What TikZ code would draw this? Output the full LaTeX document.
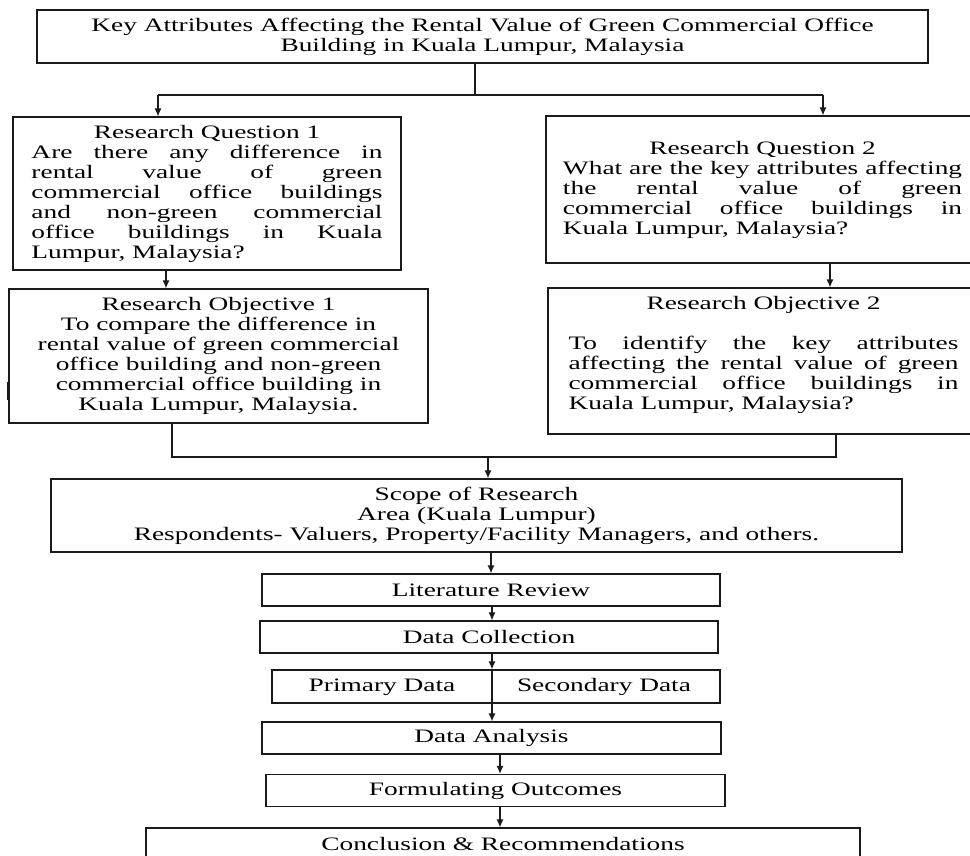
\documentclass[tikz,border=0pt]{standalone}
\usepackage{fontspec}
\setmainfont{Liberation Serif}
\usepackage{graphicx}
\usetikzlibrary{arrows.meta}
\newcommand\sx[1]{\scalebox{1.44}[1]{#1}}
\newcommand\jlin[1]{\hbox to\hsize{#1}}
\newcommand\llin[1]{\hbox to\hsize{#1\hfil}}
\newcommand\clin[1]{\hbox to\hsize{\hfil#1\hfil}}
\newcommand\tblock[2]{\sx{\vbox{\hsize=#1\baselineskip=20pt\relax #2}}}
\definecolor{linec}{HTML}{1A1A1A}
\begin{document}
\begin{tikzpicture}[x=1pt,y=-1pt,
  box/.style={draw=linec, line width=1.2pt, inner sep=0pt, font=\fontsize{19}{20}\selectfont},
  lbl/.style={inner sep=0pt, font=\fontsize{19}{20}\selectfont},
  conn/.style={draw=linec, line width=1.2pt},
  arr/.style={conn, -{Latex[length=8pt,width=7pt]}}]
\useasboundingbox (0,0) rectangle (970,855);
\clip (0,0) rectangle (970,855);
\fill[white] (0,0) rectangle (970,855);

% title
\node[box, minimum width=891pt, minimum height=53pt] (title) at (482.5,36.5)
  {\tblock{610pt}{\clin{Key Attributes Affecting the Rental Value of Green Commercial Office}\clin{Building in Kuala Lumpur, Malaysia}}};

% research questions
\node[box, minimum width=388pt, minimum height=153pt] (rq1) at (207,193.5)
  {\tblock{243.75pt}{\clin{Research Question 1}
   \jlin{Are there any difference in}
   \jlin{rental value of green}
   \jlin{commercial office buildings}
   \jlin{and non-green commercial}
   \jlin{office buildings in Kuala}
   \llin{Lumpur, Malaysia?}}};

\node[box, minimum width=433pt, minimum height=147pt] (rq2) at (762.5,189.5)
  {\tblock{277.1pt}{\clin{Research Question 2}
   \jlin{What are the key attributes affecting}
   \jlin{the rental value of green}
   \jlin{commercial office buildings in}
   \llin{Kuala Lumpur, Malaysia?}}};

% research objectives
\node[box, minimum width=419pt, minimum height=134pt] (ro1) at (218.5,356)
  {\tblock{286pt}{\clin{Research Objective 1}
   \clin{To compare the difference in}
   \clin{rental value of green commercial}
   \clin{office building and non-green}
   \clin{commercial office building in}
   \clin{Kuala Lumpur, Malaysia.}}};

\node[box, minimum width=431pt, minimum height=146pt] (ro2) at (763.5,361)
  {\tblock{270.8pt}{\clin{Research Objective 2}
   \vskip20pt
   \jlin{To identify the key attributes}
   \jlin{affecting the rental value of green}
   \jlin{commercial office buildings in}
   \llin{Kuala Lumpur, Malaysia?}
   \vskip13pt}};

% scope
\node[box, minimum width=851pt, minimum height=73pt] (scope) at (476.5,515.5)
  {\tblock{589pt}{\clin{Scope of Research}
   \clin{Area (Kuala Lumpur)}
   \clin{Respondents- Valuers, Property/Facility Managers, and others.}}};

% lower chain
\node[box, minimum width=458pt, minimum height=32pt] (lr) at (491,590) {\sx{Literature Review}};
\node[box, minimum width=458pt, minimum height=32pt] (dc) at (489,637) {\sx{Data Collection}};
\node[box, minimum width=448pt, minimum height=33pt] (ps) at (496,686.5) {};
\node[lbl] (prim) at (382,687) {\sx{Primary Data}};
\node[lbl] (sec) at (604,687) {\sx{Secondary Data}};
\node[box, minimum width=459pt, minimum height=32pt] (da) at (491.5,738) {\sx{Data Analysis}};
\node[box, minimum width=459pt, minimum height=32pt] (fo) at (495.5,790.5) {\sx{Formulating Outcomes}};
\node[box, minimum width=714pt, minimum height=34pt, text depth=2pt] (cr) at (503,845) {\sx{Conclusion \& Recommendations}};

% connector coordinates
\coordinate (tsplit) at (475,95);
\coordinate (a1) at (158,95);
\coordinate (a2) at (823,95);
\coordinate (x1) at (166,0);
\coordinate (x2) at (830,0);
\coordinate (m1) at (172,457);
\coordinate (m2) at (836,457);
\coordinate (m3) at (488,457);
\coordinate (x3) at (491,0);
\coordinate (x4) at (492,0);
\coordinate (x5) at (500,0);

% connectors
\draw[conn] (tsplit |- title.south) -- (tsplit);
\draw[conn] (a1) -- (a2);
\draw[arr] (a1) -- (a1 |- rq1.north);
\draw[arr] (a2) -- (a2 |- rq2.north);
\draw[arr] (x1 |- rq1.south) -- (x1 |- ro1.north);
\draw[arr] (x2 |- rq2.south) -- (x2 |- ro2.north);
\draw[conn] (m1 |- ro1.south) -- (m1) -- (m2) -- (m2 |- ro2.south);
\draw[arr] (m3) -- (m3 |- scope.north);
\draw[arr] (x3 |- scope.south) -- (x3 |- lr.north);
\draw[arr] (x4 |- lr.south) -- (x4 |- dc.north);
\draw[arr] (x4 |- dc.south) -- (x4 |- ps.north);
\draw[arr] (x4 |- ps.north) -- (x4 |- da.north);
\draw[arr] (x5 |- da.south) -- (x5 |- fo.north);
\draw[arr] (x5 |- fo.south) -- (x5 |- cr.north);

% stray mark at left edge
\draw[linec, line width=3pt] (8,382) -- (8,400);
\end{tikzpicture}
\end{document}
